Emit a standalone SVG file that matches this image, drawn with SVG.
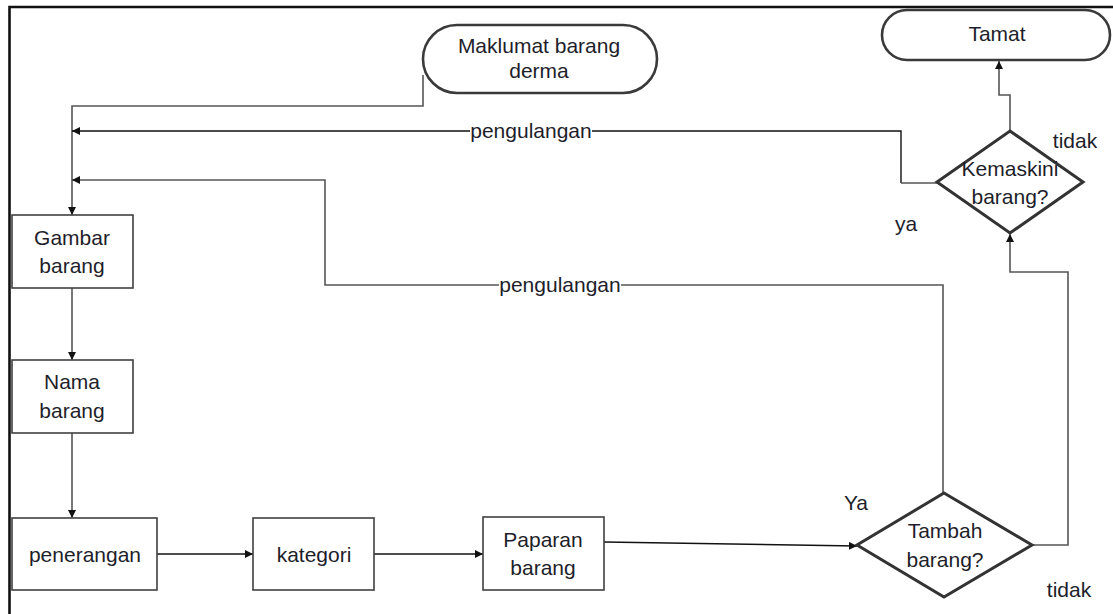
<svg xmlns="http://www.w3.org/2000/svg" width="1113" height="614" viewBox="0 0 1113 614">
<style>
text{font-family:"Liberation Sans",Arial,sans-serif;font-size:21px;fill:#1e1e2a;text-anchor:middle}
.box{fill:#fff;stroke:#404040;stroke-width:1.6}
.term{fill:#fff;stroke:#3a3a3a;stroke-width:2.6}
.dia{fill:#fff;stroke:#333;stroke-width:3}
.ln{fill:none;stroke:#555;stroke-width:1.6}
.lk{fill:none;stroke:#111;stroke-width:1.4}
.bg{fill:#fff}
</style>
<defs>
<marker id="ah" viewBox="0 0 10 10" refX="10" refY="5" markerWidth="8" markerHeight="8" markerUnits="userSpaceOnUse" orient="auto">
<path d="M0,0 L10,5 L0,10 z" fill="#111"/>
</marker>
</defs>
<rect width="1113" height="614" fill="#fff"/>
<path d="M9.5,614 V7 H1113" fill="none" stroke="#111" stroke-width="2.6"/>

<g id="connectors">
<path class="ln" d="M423,75 V106 H72 V215" marker-end="url(#ah)"/>
<path class="lk" d="M901,183 V131 H72" marker-end="url(#ah)"/>
<path class="ln" d="M937,183 H901"/>
<path class="ln" d="M943,493 V285 H325 V180 H72" marker-end="url(#ah)"/>
<path class="ln" d="M1010,131 V95 H999 V61" marker-end="url(#ah)"/>
<path class="ln" d="M1032,545 H1068 V272 H1010 V234" marker-end="url(#ah)"/>
<path class="ln" d="M72,288 V360" marker-end="url(#ah)"/>
<path class="ln" d="M72,433 V518" marker-end="url(#ah)"/>
<path class="lk" d="M157,554 H253" marker-end="url(#ah)"/>
<path class="lk" d="M374,554 H483" marker-end="url(#ah)"/>
<path class="lk" d="M604,542 L857,546" marker-end="url(#ah)"/>
<rect class="bg" x="470" y="120" width="122" height="22"/>
<text x="531" y="138">pengulangan</text>
<rect class="bg" x="499" y="274" width="122" height="22"/>
<text x="560" y="292">pengulangan</text>
<text x="1075" y="148">tidak</text>
<text x="906" y="231">ya</text>
<text x="856" y="510">Ya</text>
<text x="1069" y="597">tidak</text>
</g>

<g id="maklumat">
<rect class="term" x="423" y="25" width="234" height="68" rx="34" ry="34"/>
<text x="539" y="53">Maklumat barang</text>
<text x="539" y="78">derma</text>
</g>
<g id="tamat">
<rect class="term" x="882" y="10" width="228" height="50" rx="25" ry="25"/>
<text x="997" y="41">Tamat</text>
</g>
<g id="gambar">
<rect class="box" x="12" y="215" width="121" height="73"/>
<text x="72" y="245">Gambar</text>
<text x="72" y="273">barang</text>
</g>
<g id="nama">
<rect class="box" x="12" y="360" width="121" height="73"/>
<text x="72" y="389">Nama</text>
<text x="72" y="418">barang</text>
</g>
<g id="penerangan">
<rect class="box" x="12" y="518" width="145" height="72"/>
<text x="85" y="562">penerangan</text>
</g>
<g id="kategori">
<rect class="box" x="253" y="518" width="121" height="72"/>
<text x="314" y="562">kategori</text>
</g>
<g id="paparan">
<rect class="box" x="483" y="517" width="121" height="73"/>
<text x="543" y="547">Paparan</text>
<text x="543" y="575">barang</text>
</g>
<g id="kemaskini">
<path class="dia" d="M1010,131 L1083,182 L1010,233 L937,182 z"/>
<text x="1010" y="176">Kemaskini</text>
<text x="1010" y="204">barang?</text>
</g>
<g id="tambah">
<path class="dia" d="M944,493 L1032,545 L944,597 L857,545 z"/>
<text x="945" y="538">Tambah</text>
<text x="945" y="567">barang?</text>
</g>
</svg>
